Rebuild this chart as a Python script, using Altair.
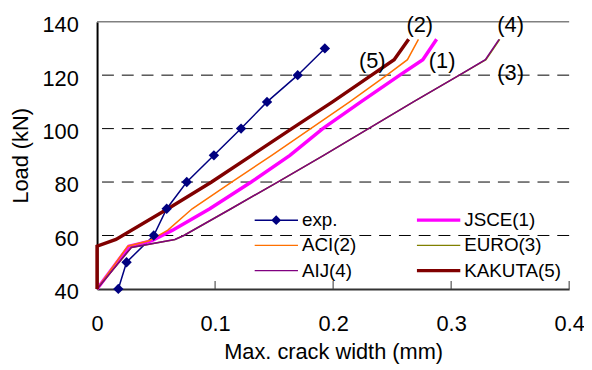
import altair as alt
import pandas as pd

FONT = "Liberation Sans"

# ---- data ----
names = ["exp.", "JSCE(1)", "ACI(2)", "EURO(3)", "AIJ(4)", "KAKUTA(5)"]
colors = ["#000080", "#FF00FF", "#FF7000", "#808000", "#800080", "#800000"]
line_widths = [1.5, 3.5, 1.5, 1.5, 1.5, 3.5]

exp_load = [40, 50, 60, 70, 80, 90, 100, 110, 120, 130]
exp_w = [0.018, 0.025, 0.048, 0.059, 0.076, 0.099, 0.122, 0.144, 0.170, 0.193]

jsce_load = [40, 56, 58, 62, 70, 80, 90, 100, 110, 120, 125.8, 133.4]
jsce_w = [0, 0.027, 0.046, 0.064, 0.0955, 0.1306, 0.1634, 0.1912, 0.2235, 0.2565, 0.276, 0.2877]

aci_load = [40, 56, 58, 62, 70, 80, 90, 100, 110, 120, 125.8, 133.4]
aci_w = [0, 0.026, 0.044, 0.060, 0.0806, 0.114, 0.148, 0.181, 0.214, 0.2455, 0.263, 0.2723]

euro_load = [40, 55.5, 58.5, 60, 70, 80, 90, 100, 110, 120, 125.8, 133.4]
euro_w = [0, 0.029, 0.066, 0.0735, 0.1135, 0.153, 0.192, 0.230, 0.268, 0.307, 0.3295, 0.3412]

aij_load = [40, 55.5, 58.5, 60, 70, 80, 90, 100, 110, 120, 125.8, 133.4]
aij_w = [0, 0.029, 0.066, 0.0735, 0.1135, 0.153, 0.192, 0.230, 0.268, 0.307, 0.329, 0.3406]

kakuta_load = [40, 56, 58.5, 70, 80, 90, 100, 110, 120, 125.8, 133.4]
kakuta_w = [0, 0, 0.016, 0.060, 0.097, 0.131, 0.165, 0.1995, 0.2326, 0.2517, 0.264]

x_ticks = [0, 0.1, 0.2, 0.3, 0.4]
inner_ticks = [0.1, 0.2, 0.3, 0.4]
y_ticks = [40, 60, 80, 100, 120, 140]
grid_loads = [60, 80, 100, 120]
top_load = [140]

ann_labels = ["(1)", "(2)", "(3)", "(4)", "(5)"]
ann_x = [0.2924, 0.2734, 0.3504, 0.3504, 0.2331]
ann_y = [125.2, 138.9, 120.6, 138.9, 125.1]

# legend symbols (custom paths, unit = half the symbol width)
thin = "M-1,-0.034L1,-0.034L1,0.034L-1,0.034Z"
thick = "M-1,-0.075L1,-0.075L1,0.075L-1,0.075Z"
exp_sym = thin + "M0,-0.227L0.227,0L0,0.227L-0.227,0Z"
legend_shapes = [exp_sym, thick, thin, thin, thin, thick]

series_data = {
    "exp.": (exp_w, exp_load),
    "JSCE(1)": (jsce_w, jsce_load),
    "ACI(2)": (aci_w, aci_load),
    "EURO(3)": (euro_w, euro_load),
    "AIJ(4)": (aij_w, aij_load),
    "KAKUTA(5)": (kakuta_w, kakuta_load),
}

rows = []
for name, col, sw in zip(names, colors, line_widths):
    ws, ls = series_data[name]
    for i, (w, l) in enumerate(zip(ws, ls)):
        rows.append({"series": name, "w": w, "load": l, "col": col, "sw": sw, "idx": i})
df = pd.DataFrame(rows)

# ---- scales & axes ----
xscale = alt.Scale(domain=[0, 0.4], nice=False, zero=False)
yscale = alt.Scale(domain=[40, 140], nice=False, zero=False)

xaxis = alt.Axis(values=x_ticks, format="~g", title="Max. crack width (mm)", grid=False,
                 ticks=False, tickSize=0, labelPadding=25, labelFontSize=22, labelFont=FONT,
                 labelColor="black", labelFlush=False, titleFontSize=22, titleFont=FONT,
                 titleColor="black", titleFontWeight="normal", titleBaseline="alphabetic",
                 titleY=70, domainColor="#333333", domainWidth=2)
yaxis = alt.Axis(values=y_ticks, title="Load (kN)", grid=False, ticks=False, tickSize=0,
                 labelPadding=19, labelOffset=3, labelFontSize=22, labelFont=FONT,
                 labelColor="black", labelFlush=False, titleFontSize=22, titleFont=FONT,
                 titleColor="black", titleFontWeight="normal", titleBaseline="alphabetic",
                 titleX=-70.5, domainColor="black", domainWidth=2)


def X(f):
    return alt.X(f, type="quantitative", scale=xscale, axis=xaxis)


def Y(f):
    return alt.Y(f, type="quantitative", scale=yscale, axis=yaxis)


grid = alt.Chart(pd.DataFrame({"g": grid_loads})).mark_rule(
    color="black", strokeDash=[12, 8], strokeWidth=1).encode(y=Y("g"))
top = alt.Chart(pd.DataFrame({"g": top_load})).mark_rule(
    color="#808080", strokeWidth=1.5).encode(y=Y("g"))
xt = alt.Chart(pd.DataFrame({"t": inner_ticks})).mark_rule(
    color="#333333", strokeWidth=1).encode(x=X("t"), y=alt.value(262), y2=alt.value(270))

line_layers = []
for name in names:
    sub = df[df.series == name]
    line_layers.append(
        alt.Chart(sub).mark_line(strokeJoin="miter").encode(
            x=X("w"), y=Y("load"), order=alt.Order("idx:Q"),
            stroke=alt.Stroke("col:N", scale=None),
            strokeWidth=alt.StrokeWidth("sw:Q", scale=None),
        )
    )

exp_pts = alt.Chart(df[df.series == "exp."]).mark_point(
    shape="diamond", filled=True, size=110, color="#000080", opacity=1).encode(
    x=X("w"), y=Y("load"))

leg = alt.Legend(title=None, orient="none", direction="horizontal", legendX=159,
                 legendY=188, columns=2, columnPadding=61, rowPadding=0.5, clipHeight=25,
                 symbolSize=1936, symbolStrokeWidth=0, symbolOpacity=1, labelFontSize=19,
                 labelFont=FONT, labelColor="black", labelOffset=4, padding=0, labelLimit=300)

legend_layer = alt.Chart(df).mark_point(filled=True, opacity=0).encode(
    x=X("w"), y=Y("load"),
    color=alt.Color("series:N", scale=alt.Scale(domain=names, range=colors), legend=leg),
    shape=alt.Shape("series:N", scale=alt.Scale(domain=names, range=legend_shapes), legend=leg),
)

ann = alt.Chart(pd.DataFrame({"t": ann_labels, "x": ann_x, "y": ann_y})).mark_text(
    fontSize=22, font=FONT, color="black", align="center", baseline="middle").encode(
    x=X("x"), y=Y("y"), text="t:N")

H = 356
chart = alt.layer(grid, top, xt, *line_layers, exp_pts, legend_layer, ann).properties(
    width=477, height=270,
    autosize=alt.AutoSizeParams(type="none"),
    padding={"left": 90, "top": 12, "right": 15, "bottom": H - 12 - 270},
    background="white",
).configure_view(stroke=None)

chart.save("out.html", embed_options={"renderer": "svg", "actions": False})
